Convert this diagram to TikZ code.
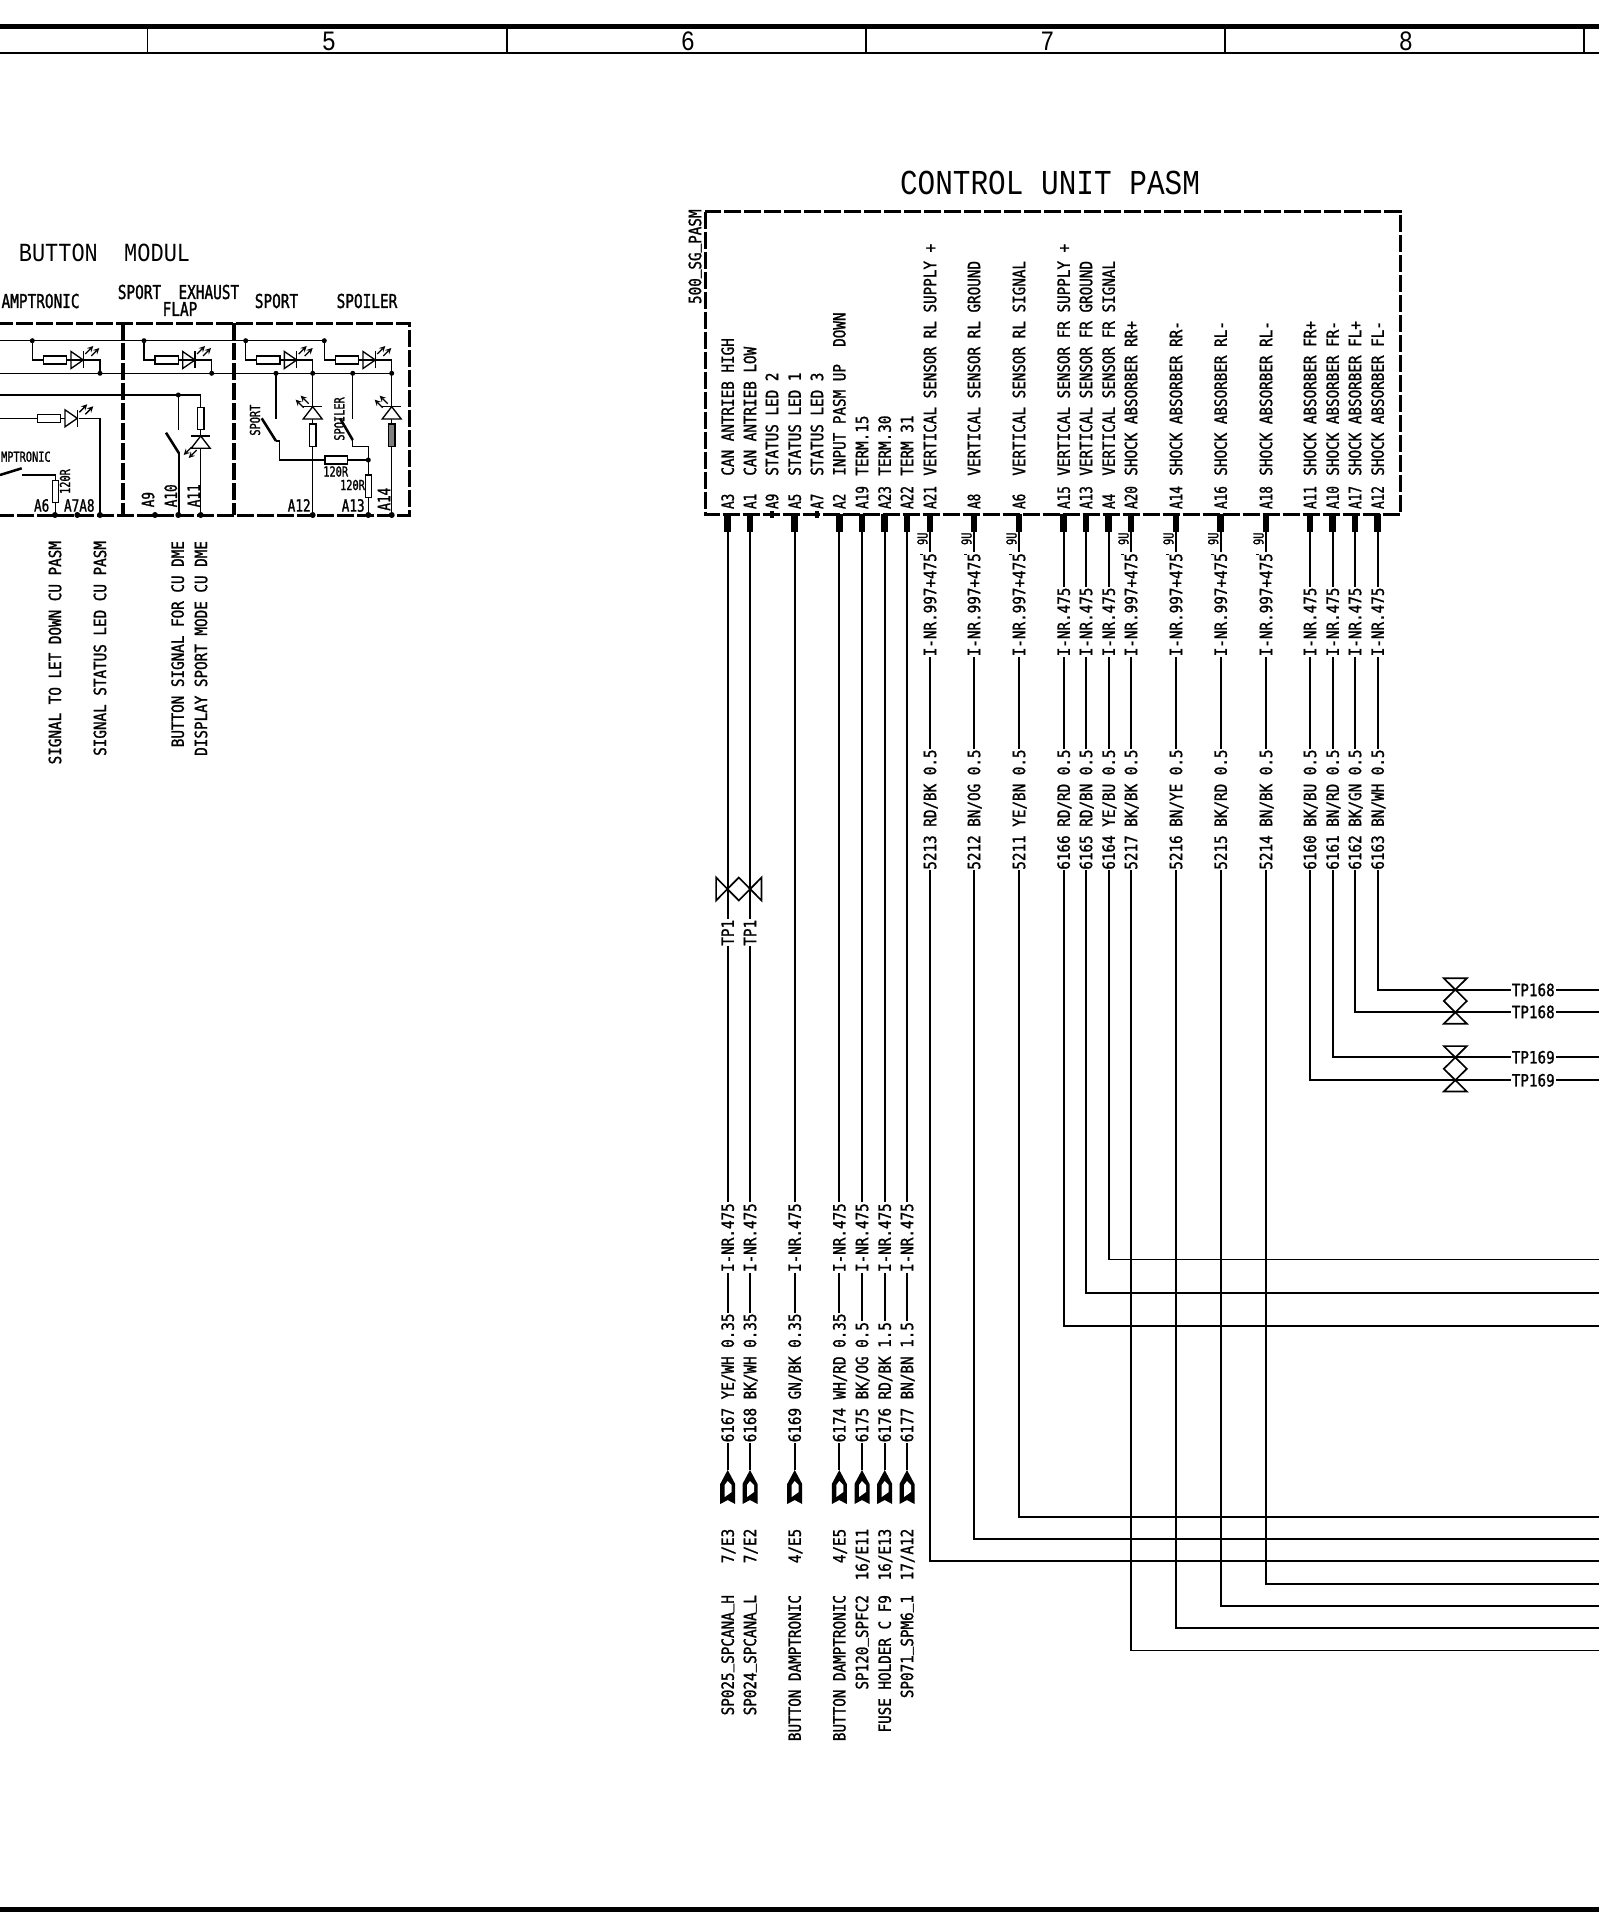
\documentclass[tikz,border=0pt]{standalone}
\usepackage{fontspec}
\usepackage{tikz}
\newfontfamily\plotfont[FakeStretch=0.845,FakeBold=1.3]{DejaVu Sans Mono}
\newfontfamily\narrowfont[FakeStretch=0.75,FakeBold=1.3]{DejaVu Sans Mono}
\newfontfamily\titlefont[FakeStretch=0.84]{Liberation Mono}
\newcommand{\usc}{\raisebox{2.6pt}{\_}}
\tikzset{
  wire/.style={line width=1.25pt},
  thinwire/.style={line width=1pt},
  frame/.style={line width=2.25pt,dash pattern=on 12.75pt off 2.25pt},
  pinstub/.style={line width=5pt},
  pindot/.style={line width=3pt},
  resbox/.style={line width=1pt,fill=white},
  blade/.style={line width=1.9pt},
  txt/.style={inner sep=0.6pt,text depth=0pt},
  siglabel/.style={txt,font=\plotfont\fontsize{12.66}{13}\selectfont,text height=9.2pt},
  wirelabel/.style={siglabel,fill=white},
  pinlabel/.style={txt,font=\narrowfont\fontsize{12.66}{13}\selectfont,text height=9.2pt},
  headlabel/.style={txt,font=\narrowfont\fontsize{14.4}{15}\selectfont,text height=10.5pt},
  tinylabel/.style={txt,font=\narrowfont\fontsize{10.3}{11}\selectfont,text height=7.5pt},
  uplabel/.style={rotate=90,anchor=west},
  downlabel/.style={rotate=90,anchor=east},
  plugend/.pic={
    \fill (0,0) -- (7.5,-14) -- (7.5,-34) -- (0,-30) -- (-7.5,-34) -- (-7.5,-14) -- cycle;
    \fill [white] (-3,-15) -- (0,-11) -- (4,-15) -- (4,-22) -- (-3,-27) -- cycle;
  },
  twistpair/.pic={
    \draw [wire,line join=miter] (-11.5,-22.7) -- (11.5,-22.7) -- (-11.5,0) -- (11.5,22.7) -- (-11.5,22.7) -- (11.5,0) -- cycle;
  },
  ledrow/.pic={
    \draw [resbox] (0,-4) rectangle (23.3,4);
    \draw [thinwire] (23.3,0) -- (27.7,0);
    \draw [thinwire] (27.7,-8.5) -- (27.7,8.5) -- (40,0) -- cycle;
    \draw [thinwire] (40,-8.5) -- (40,8.5);
    \draw [thinwire,-stealth] (42,6) -- (50,14);
    \draw [thinwire,-stealth] (48,4) -- (56,12);
  },
  ledcolup/.pic={
    \draw [thinwire,fill=white] (-9.5,-12.3) -- (9.5,-12.3) -- (0,0) -- cycle;
    \draw [thinwire] (-9.5,0) -- (9.5,0);
    \draw [thinwire,-stealth] (-4,3) -- (-12,11);
    \draw [thinwire,-stealth] (-9,-1) -- (-17,7);
  },
  ledcoldown/.pic={
    \draw [thinwire,fill=white] (-9.5,-12.3) -- (9.5,-12.3) -- (0,0) -- cycle;
    \draw [thinwire] (-9.5,0) -- (9.5,0);
    \draw [thinwire,-stealth] (-4,-14) -- (-12,-22);
    \draw [thinwire,-stealth] (-9,-11) -- (-17,-19);
  },
}

\begin{document}
\begin{tikzpicture}[x=0.75pt,y=0.75pt,yscale=-1,xscale=1]
\useasboundingbox (0,0) rectangle (1599,1929);

%Sheet frame
\coordinate (sheetTL) at (0,27);
\coordinate (sheetTR) at (1599,27);
\coordinate (sheetML) at (0,53);
\coordinate (sheetMR) at (1599,53);
\coordinate (sheetBL) at (0,1909);
\coordinate (sheetBR) at (1599,1909);
\draw [line width=3.75pt] (sheetTL) -- (sheetTR);
\draw [wire] (sheetML) -- (sheetMR);
\draw [line width=3.75pt] (sheetBL) -- (sheetBR);
\draw [wire] (147.6,27) -- (147.6,53);
\draw [wire] (506.8,27) -- (506.8,53);
\draw [wire] (866,27) -- (866,53);
\draw [wire] (1225,27) -- (1225,53);
\draw [wire] (1584.3,27) -- (1584.3,53);

% Text Node
\draw (329,41) node (sheetfive) [font=\titlefont\fontsize{21}{22}\selectfont,inner sep=0pt] {5};
\draw (688,41) node (sheetsix) [font=\titlefont\fontsize{21}{22}\selectfont,inner sep=0pt] {6};
\draw (1047.5,41) node (sheetseven) [font=\titlefont\fontsize{21}{22}\selectfont,inner sep=0pt] {7};
\draw (1406,41) node (sheeteight) [font=\titlefont\fontsize{21}{22}\selectfont,inner sep=0pt] {8};

%Button module frame
\draw [frame] (-4,323.3) -- (409.3,323.3) -- (409.3,515) -- (-4,515);
\draw [frame,line width=3pt] (122.7,323.3) -- (122.7,515);
\draw [frame,line width=3pt] (234,323.3) -- (234,515);

%Button module rails
\coordinate (railA) at (0,340.7);
\coordinate (railB) at (0,373.3);
\coordinate (railC) at (0,395);
\coordinate (railD) at (0,418.3);
\coordinate (railAend) at (324.3,340.7);
\coordinate (railBend) at (391.7,373.3);
\coordinate (railCend) at (200.7,395);
\draw [thinwire] (railA) -- (railAend);
\draw [thinwire] (railB) -- (railBend);
\draw [thinwire] (railC) -- (railCend);
\draw [thinwire] (railD) -- (37.3,418.3);

%LED rows
\draw [thinwire] (32.3,340.7) -- (32.3,360) -- (100,360) -- (100,373.3);
\path (43.3,360) pic {ledrow};
\draw [thinwire] (144,340.7) -- (144,360) -- (211.7,360) -- (211.7,373.3);
\path (155,360) pic {ledrow};
\draw [thinwire] (245.7,340.7) -- (245.7,360) -- (312.7,360) -- (312.7,373.3);
\path (256.7,360) pic {ledrow};
\draw [thinwire] (324.3,340.7) -- (324.3,360) -- (391.7,360) -- (391.7,373.3);
\path (335.3,360) pic {ledrow};
\draw [thinwire] (79,418.3) -- (100,418.3) -- (100,515);
\path (37.3,418.3) pic {ledrow};

%Exhaust flap
\draw [thinwire] (178.3,395) -- (178.3,430);
\draw [blade] (166,432.7) -- (179,453.3);
\draw [thinwire] (179,453.3) -- (179,515);
\draw [thinwire] (railCend) -- (200.7,515);
\draw [resbox] (197.3,407.3) rectangle (204,429.3);
\path (200.7,436) pic {ledcoldown};

%Sport and spoiler
\draw [thinwire] (276,373.3) -- (276,419);
\draw [blade] (261.7,418.3) -- (276,441);
\draw [thinwire] (276,441) -- (279.3,441) -- (279.3,460) -- (368.3,460);
\draw [resbox] (325,456) rectangle (347.3,464);
\draw [thinwire] (352.7,373.3) -- (352.7,419);
\draw [blade] (340,418.3) -- (352.7,440);
\draw [thinwire] (352.7,440) -- (352.7,446.7) -- (368.3,446.7) -- (368.3,515);
\draw [resbox] (365.2,475) rectangle (371.7,497.3);
\draw [thinwire] (312.7,373.3) -- (312.7,515);
\draw [resbox] (309.3,424) rectangle (316,446.7);
\path (312.7,406.7) pic {ledcolup};
\draw [thinwire] (391.7,373.3) -- (391.7,515);
\draw [resbox,fill=gray] (388.4,424) rectangle (395,446.7);
\path (391.7,406.7) pic {ledcolup};

%Damptronic switch
\draw [blade] (0,475) -- (21.7,468.3);
\draw [thinwire] (21.7,475) -- (55.3,475) -- (55.3,515);
\draw [resbox] (52.3,480.7) rectangle (58.3,502.7);

%Button module dots
\fill (32.3,340.7) circle (2.5);
\fill (144,340.7) circle (2.5);
\fill (245.7,340.7) circle (2.5);
\fill (324.3,340.7) circle (2.5);
\fill (100,373.3) circle (2.5);
\fill (211.7,373.3) circle (2.5);
\fill (276,373.3) circle (2.5);
\fill (312.7,373.3) circle (2.5);
\fill (352.7,373.3) circle (2.5);
\fill (391.7,373.3) circle (2.5);
\fill (178.3,395) circle (2.5);
\fill (368.3,460) circle (2.5);
\fill (55,515) circle (3);
\fill (77.3,515) circle (3);
\fill (100,515) circle (3);
\fill (155,515) circle (3);
\fill (178.3,515) circle (3);
\fill (200.7,515) circle (3);
\fill (312.7,515) circle (3);
\fill (368.3,515) circle (3);
\fill (391.7,515) circle (3);

% Text Node
\draw (104.5,253) node (modultitle) [font=\titlefont\fontsize{19.6}{21}\selectfont,inner sep=0pt] {BUTTON~~MODUL};
\draw (0.5,301) node (headdamp) [headlabel,anchor=west] {AMPTRONIC};
\draw (178.5,292) node (headflapa) [headlabel] {SPORT~~EXHAUST};
\draw (180,309) node (headflapb) [headlabel] {FLAP};
\draw (276.5,301) node (headsport) [headlabel] {SPORT};
\draw (367,301) node (headspoil) [headlabel] {SPOILER};
\draw (0,456.7) node (tinydamp) [tinylabel,anchor=west] {MPTRONIC};
\draw (255,436.7) node (tinysport) [tinylabel,uplabel] {SPORT};
\draw (339.3,441.7) node (tinyspoil) [tinylabel,uplabel] {SPOILER};
\draw (335.7,471.5) node (resone) [tinylabel] {120R};
\draw (352.5,485) node (restwo) [tinylabel] {120R};
\draw (65,495) node (resthree) [tinylabel,uplabel] {120R};
\draw (33,505.5) node (pinasix) [pinlabel,anchor=west] {A6};
\draw (63,505.5) node (pinaseven) [pinlabel,anchor=west] {A7A8};
\draw (148,508.3) node (pinanine) [pinlabel,uplabel] {A9};
\draw (170.8,508.3) node (pinaten) [pinlabel,uplabel] {A10};
\draw (193.7,508.3) node (pinaeleven) [pinlabel,uplabel] {A11};
\draw (286.7,505.5) node (pinatwelve) [pinlabel,anchor=west] {A12};
\draw (340.7,505.5) node (pinathirteen) [pinlabel,anchor=west] {A13};
\draw (384,511.7) node (pinafourteen) [pinlabel,uplabel] {A14};
\draw (55,540) node (sigletdown) [siglabel,downlabel] {SIGNAL TO LET DOWN CU PASM};
\draw (100,540) node (sigstatus) [siglabel,downlabel] {SIGNAL STATUS LED CU PASM};
\draw (177.7,540) node (sigbutton) [siglabel,downlabel] {BUTTON SIGNAL FOR CU DME};
\draw (201,540) node (sigdisplay) [siglabel,downlabel] {DISPLAY SPORT MODE CU DME};

%Control unit frame
\coordinate (cuTL) at (705,211.7);
\coordinate (cuBR) at (1400.7,514);
\draw [frame] (cuTL) rectangle (cuBR);

%Pin positions
\coordinate (pA3) at (727.7,514);
\coordinate (pA1) at (750,514);
\coordinate (pA9) at (772,514);
\coordinate (pA5) at (794.7,514);
\coordinate (pA7) at (817,514);
\coordinate (pA2) at (839.3,514);
\coordinate (pA19) at (862,514);
\coordinate (pA23) at (884.7,514);
\coordinate (pA22) at (907,514);
\coordinate (pA21) at (930,514);
\coordinate (pA8) at (974,514);
\coordinate (pA6) at (1019,514);
\coordinate (pA15) at (1063.7,514);
\coordinate (pA13) at (1086,514);
\coordinate (pA4) at (1108.7,514);
\coordinate (pA20) at (1131,514);
\coordinate (pA14) at (1176,514);
\coordinate (pA16) at (1220.7,514);
\coordinate (pA18) at (1266,514);
\coordinate (pA11) at (1310,514);
\coordinate (pA10) at (1332.7,514);
\coordinate (pA17) at (1355,514);
\coordinate (pA12) at (1377.7,514);

%Wire ends
\coordinate (eA3) at (727.7,1470);
\coordinate (eA1) at (750,1470);
\coordinate (eA5) at (794.7,1470);
\coordinate (eA2) at (839.3,1470);
\coordinate (eA19) at (862,1470);
\coordinate (eA23) at (884.7,1470);
\coordinate (eA22) at (907,1470);
\coordinate (eA21) at (1599,1561);
\coordinate (eA8) at (1599,1539);
\coordinate (eA6) at (1599,1517);
\coordinate (eA15) at (1599,1326);
\coordinate (eA13) at (1599,1293);
\coordinate (eA4) at (1599,1259.5);
\coordinate (eA20) at (1599,1650.5);
\coordinate (eA14) at (1599,1628.3);
\coordinate (eA16) at (1599,1606);
\coordinate (eA18) at (1599,1583.7);
\coordinate (eA11) at (1599,1080.3);
\coordinate (eA10) at (1599,1057.3);
\coordinate (eA17) at (1599,1012);
\coordinate (eA12) at (1599,990);

%Straight Lines
\draw [wire] (pA3) -- (eA3);
\draw [wire] (pA1) -- (eA1);
\draw [wire] (pA5) -- (eA5);
\draw [wire] (pA2) -- (eA2);
\draw [wire] (pA19) -- (eA19);
\draw [wire] (pA23) -- (eA23);
\draw [wire] (pA22) -- (eA22);
\draw [wire] (pA21) |- (eA21);
\draw [wire] (pA8) |- (eA8);
\draw [wire] (pA6) |- (eA6);
\draw [wire] (pA15) |- (eA15);
\draw [wire] (pA13) |- (eA13);
\draw [wire] (pA4) |- (eA4);
\draw [wire] (pA20) |- (eA20);
\draw [wire] (pA14) |- (eA14);
\draw [wire] (pA16) |- (eA16);
\draw [wire] (pA18) |- (eA18);
\draw [wire] (pA11) |- (eA11);
\draw [wire] (pA10) |- (eA10);
\draw [wire] (pA17) |- (eA17);
\draw [wire] (pA12) |- (eA12);

%Pin stubs
\draw [pinstub] (pA3) -- ++(0,18);
\draw [pinstub] (pA1) -- ++(0,18);
\draw [pindot] (772,511) -- ++(0,7);
\draw [pinstub] (pA5) -- ++(0,18);
\draw [pindot] (817,511) -- ++(0,7);
\draw [pinstub] (pA2) -- ++(0,18);
\draw [pinstub] (pA19) -- ++(0,18);
\draw [pinstub] (pA23) -- ++(0,18);
\draw [pinstub] (pA22) -- ++(0,18);
\draw [pinstub] (pA21) -- ++(0,18);
\draw [pinstub] (pA8) -- ++(0,18);
\draw [pinstub] (pA6) -- ++(0,18);
\draw [pinstub] (pA15) -- ++(0,18);
\draw [pinstub] (pA13) -- ++(0,18);
\draw [pinstub] (pA4) -- ++(0,18);
\draw [pinstub] (pA20) -- ++(0,18);
\draw [pinstub] (pA14) -- ++(0,18);
\draw [pinstub] (pA16) -- ++(0,18);
\draw [pinstub] (pA18) -- ++(0,18);
\draw [pinstub] (pA11) -- ++(0,18);
\draw [pinstub] (pA10) -- ++(0,18);
\draw [pinstub] (pA17) -- ++(0,18);
\draw [pinstub] (pA12) -- ++(0,18);

%Shield ticks
\draw [thinwire] (920,554.5) -- (930,554.5);
\draw [thinwire] (964,554.5) -- (974,554.5);
\draw [thinwire] (1009,554.5) -- (1019,554.5);
\draw [thinwire] (1121,554.5) -- (1131,554.5);
\draw [thinwire] (1166,554.5) -- (1176,554.5);
\draw [thinwire] (1210.7,554.5) -- (1220.7,554.5);
\draw [thinwire] (1256,554.5) -- (1266,554.5);

%Plug ends
\path (eA3) pic {plugend};
\path (eA1) pic {plugend};
\path (eA5) pic {plugend};
\path (eA2) pic {plugend};
\path (eA19) pic {plugend};
\path (eA23) pic {plugend};
\path (eA22) pic {plugend};

%Twisted pairs
\path (738.8,889) pic [rotate=90] {twistpair};
\path (1455.3,1001) pic {twistpair};
\path (1455.3,1068.8) pic {twistpair};

% Text Node
\draw (1050,183.3) node (cutitle) [font=\titlefont\fontsize{26.25}{28}\selectfont,inner sep=0pt] {CONTROL UNIT PASM};
\draw (695,305) node (cuname) [siglabel,uplabel] {500\usc SG\usc PASM};

% Text Node
\draw (727.7,510) node (lpA3) [pinlabel,uplabel] {A3};
\draw (750,510) node (lpA1) [pinlabel,uplabel] {A1};
\draw (772,510) node (lpA9) [pinlabel,uplabel] {A9};
\draw (794.7,510) node (lpA5) [pinlabel,uplabel] {A5};
\draw (817,510) node (lpA7) [pinlabel,uplabel] {A7};
\draw (839.3,510) node (lpA2) [pinlabel,uplabel] {A2};
\draw (862,510) node (lpA19) [pinlabel,uplabel] {A19};
\draw (884.7,510) node (lpA23) [pinlabel,uplabel] {A23};
\draw (907,510) node (lpA22) [pinlabel,uplabel] {A22};
\draw (930,510) node (lpA21) [pinlabel,uplabel] {A21};
\draw (974,510) node (lpA8) [pinlabel,uplabel] {A8};
\draw (1019,510) node (lpA6) [pinlabel,uplabel] {A6};
\draw (1063.7,510) node (lpA15) [pinlabel,uplabel] {A15};
\draw (1086,510) node (lpA13) [pinlabel,uplabel] {A13};
\draw (1108.7,510) node (lpA4) [pinlabel,uplabel] {A4};
\draw (1131,510) node (lpA20) [pinlabel,uplabel] {A20};
\draw (1176,510) node (lpA14) [pinlabel,uplabel] {A14};
\draw (1220.7,510) node (lpA16) [pinlabel,uplabel] {A16};
\draw (1266,510) node (lpA18) [pinlabel,uplabel] {A18};
\draw (1310,510) node (lpA11) [pinlabel,uplabel] {A11};
\draw (1332.7,510) node (lpA10) [pinlabel,uplabel] {A10};
\draw (1355,510) node (lpA17) [pinlabel,uplabel] {A17};
\draw (1377.7,510) node (lpA12) [pinlabel,uplabel] {A12};

% Text Node
\draw (727.7,476.7) node (sA3) [siglabel,uplabel] {CAN ANTRIEB HIGH};
\draw (750,476.7) node (sA1) [siglabel,uplabel] {CAN ANTRIEB LOW};
\draw (772,476.7) node (sA9) [siglabel,uplabel] {STATUS LED 2};
\draw (794.7,476.7) node (sA5) [siglabel,uplabel] {STATUS LED 1};
\draw (817,476.7) node (sA7) [siglabel,uplabel] {STATUS LED 3};
\draw (839.3,476.7) node (sA2) [siglabel,uplabel] {INPUT PASM UP~~DOWN};
\draw (862,476.7) node (sA19) [siglabel,uplabel] {TERM.15};
\draw (884.7,476.7) node (sA23) [siglabel,uplabel] {TERM.30};
\draw (907,476.7) node (sA22) [siglabel,uplabel] {TERM 31};
\draw (930,476.7) node (sA21) [siglabel,uplabel] {VERTICAL SENSOR RL SUPPLY +};
\draw (974,476.7) node (sA8) [siglabel,uplabel] {VERTICAL SENSOR RL GROUND};
\draw (1019,476.7) node (sA6) [siglabel,uplabel] {VERTICAL SENSOR RL SIGNAL};
\draw (1063.7,476.7) node (sA15) [siglabel,uplabel] {VERTICAL SENSOR FR SUPPLY +};
\draw (1086,476.7) node (sA13) [siglabel,uplabel] {VERTICAL SENSOR FR GROUND};
\draw (1108.7,476.7) node (sA4) [siglabel,uplabel] {VERTICAL SENSOR FR SIGNAL};
\draw (1131,476.7) node (sA20) [siglabel,uplabel] {SHOCK ABSORBER RR+};
\draw (1176,476.7) node (sA14) [siglabel,uplabel] {SHOCK ABSORBER RR-};
\draw (1220.7,476.7) node (sA16) [siglabel,uplabel] {SHOCK ABSORBER RL-};
\draw (1266,476.7) node (sA18) [siglabel,uplabel] {SHOCK ABSORBER RL-};
\draw (1310,476.7) node (sA11) [siglabel,uplabel] {SHOCK ABSORBER FR+};
\draw (1332.7,476.7) node (sA10) [siglabel,uplabel] {SHOCK ABSORBER FR-};
\draw (1355,476.7) node (sA17) [siglabel,uplabel] {SHOCK ABSORBER FL+};
\draw (1377.7,476.7) node (sA12) [siglabel,uplabel] {SHOCK ABSORBER FL-};

% Text Node
\draw (922.5,546) node (uA21) [tinylabel,uplabel] {9U};
\draw (966.5,546) node (uA8) [tinylabel,uplabel] {9U};
\draw (1011.5,546) node (uA6) [tinylabel,uplabel] {9U};
\draw (1123.5,546) node (uA20) [tinylabel,uplabel] {9U};
\draw (1168.5,546) node (uA14) [tinylabel,uplabel] {9U};
\draw (1213.2,546) node (uA16) [tinylabel,uplabel] {9U};
\draw (1258.5,546) node (uA18) [tinylabel,uplabel] {9U};

% Text Node
\draw (930,657.3) node (iA21) [wirelabel,uplabel] {I-NR.997+475};
\draw (974,657.3) node (iA8) [wirelabel,uplabel] {I-NR.997+475};
\draw (1019,657.3) node (iA6) [wirelabel,uplabel] {I-NR.997+475};
\draw (1063.7,657.3) node (iA15) [wirelabel,uplabel] {I-NR.475};
\draw (1086,657.3) node (iA13) [wirelabel,uplabel] {I-NR.475};
\draw (1108.7,657.3) node (iA4) [wirelabel,uplabel] {I-NR.475};
\draw (1131,657.3) node (iA20) [wirelabel,uplabel] {I-NR.997+475};
\draw (1176,657.3) node (iA14) [wirelabel,uplabel] {I-NR.997+475};
\draw (1220.7,657.3) node (iA16) [wirelabel,uplabel] {I-NR.997+475};
\draw (1266,657.3) node (iA18) [wirelabel,uplabel] {I-NR.997+475};
\draw (1310,657.3) node (iA11) [wirelabel,uplabel] {I-NR.475};
\draw (1332.7,657.3) node (iA10) [wirelabel,uplabel] {I-NR.475};
\draw (1355,657.3) node (iA17) [wirelabel,uplabel] {I-NR.475};
\draw (1377.7,657.3) node (iA12) [wirelabel,uplabel] {I-NR.475};

% Text Node
\draw (930,870.7) node (nA21) [wirelabel,uplabel] {5213 RD/BK 0.5};
\draw (974,870.7) node (nA8) [wirelabel,uplabel] {5212 BN/OG 0.5};
\draw (1019,870.7) node (nA6) [wirelabel,uplabel] {5211 YE/BN 0.5};
\draw (1063.7,870.7) node (nA15) [wirelabel,uplabel] {6166 RD/RD 0.5};
\draw (1086,870.7) node (nA13) [wirelabel,uplabel] {6165 RD/BN 0.5};
\draw (1108.7,870.7) node (nA4) [wirelabel,uplabel] {6164 YE/BU 0.5};
\draw (1131,870.7) node (nA20) [wirelabel,uplabel] {5217 BK/BK 0.5};
\draw (1176,870.7) node (nA14) [wirelabel,uplabel] {5216 BN/YE 0.5};
\draw (1220.7,870.7) node (nA16) [wirelabel,uplabel] {5215 BK/RD 0.5};
\draw (1266,870.7) node (nA18) [wirelabel,uplabel] {5214 BN/BK 0.5};
\draw (1310,870.7) node (nA11) [wirelabel,uplabel] {6160 BK/BU 0.5};
\draw (1332.7,870.7) node (nA10) [wirelabel,uplabel] {6161 BN/RD 0.5};
\draw (1355,870.7) node (nA17) [wirelabel,uplabel] {6162 BK/GN 0.5};
\draw (1377.7,870.7) node (nA12) [wirelabel,uplabel] {6163 BN/WH 0.5};

% Text Node
\draw (727.7,946.7) node (tpA3) [wirelabel,uplabel] {TP1};
\draw (750,946.7) node (tpA1) [wirelabel,uplabel] {TP1};
\draw (1510.7,990) node (tpA12) [wirelabel,anchor=west] {TP168};
\draw (1510.7,1012) node (tpA17) [wirelabel,anchor=west] {TP168};
\draw (1510.7,1057.3) node (tpA10) [wirelabel,anchor=west] {TP169};
\draw (1510.7,1080.3) node (tpA11) [wirelabel,anchor=west] {TP169};

% Text Node
\draw (727.7,1273) node (iA3) [wirelabel,uplabel] {I-NR.475};
\draw (750,1273) node (iA1) [wirelabel,uplabel] {I-NR.475};
\draw (794.7,1273) node (iA5) [wirelabel,uplabel] {I-NR.475};
\draw (839.3,1273) node (iA2) [wirelabel,uplabel] {I-NR.475};
\draw (862,1273) node (iA19) [wirelabel,uplabel] {I-NR.475};
\draw (884.7,1273) node (iA23) [wirelabel,uplabel] {I-NR.475};
\draw (907,1273) node (iA22) [wirelabel,uplabel] {I-NR.475};

% Text Node
\draw (727.7,1443.3) node (nA3) [wirelabel,uplabel] {6167 YE/WH 0.35};
\draw (750,1443.3) node (nA1) [wirelabel,uplabel] {6168 BK/WH 0.35};
\draw (794.7,1443.3) node (nA5) [wirelabel,uplabel] {6169 GN/BK 0.35};
\draw (839.3,1443.3) node (nA2) [wirelabel,uplabel] {6174 WH/RD 0.35};
\draw (862,1443.3) node (nA19) [wirelabel,uplabel] {6175 BK/OG 0.5};
\draw (884.7,1443.3) node (nA23) [wirelabel,uplabel] {6176 RD/BK 1.5};
\draw (907,1443.3) node (nA22) [wirelabel,uplabel] {6177 BN/BN 1.5};

% Text Node
\draw (727.7,1527.7) node (rA3) [siglabel,downlabel] {7/E3};
\draw (750,1527.7) node (rA1) [siglabel,downlabel] {7/E2};
\draw (794.7,1527.7) node (rA5) [siglabel,downlabel] {4/E5};
\draw (839.3,1527.7) node (rA2) [siglabel,downlabel] {4/E5};
\draw (862,1527.7) node (rA19) [siglabel,downlabel] {16/E11};
\draw (884.7,1527.7) node (rA23) [siglabel,downlabel] {16/E13};
\draw (907,1527.7) node (rA22) [siglabel,downlabel] {17/A12};

% Text Node
\draw (727.7,1594) node (dA3) [siglabel,downlabel] {SP025\usc SPCANA\usc H};
\draw (750,1594) node (dA1) [siglabel,downlabel] {SP024\usc SPCANA\usc L};
\draw (794.7,1594) node (dA5) [siglabel,downlabel] {BUTTON DAMPTRONIC};
\draw (839.3,1594) node (dA2) [siglabel,downlabel] {BUTTON DAMPTRONIC};
\draw (862,1594) node (dA19) [siglabel,downlabel] {SP120\usc SPFC2};
\draw (884.7,1594) node (dA23) [siglabel,downlabel] {FUSE HOLDER C F9};
\draw (907,1594) node (dA22) [siglabel,downlabel] {SP071\usc SPM6\usc 1};

\end{tikzpicture}
\end{document}
